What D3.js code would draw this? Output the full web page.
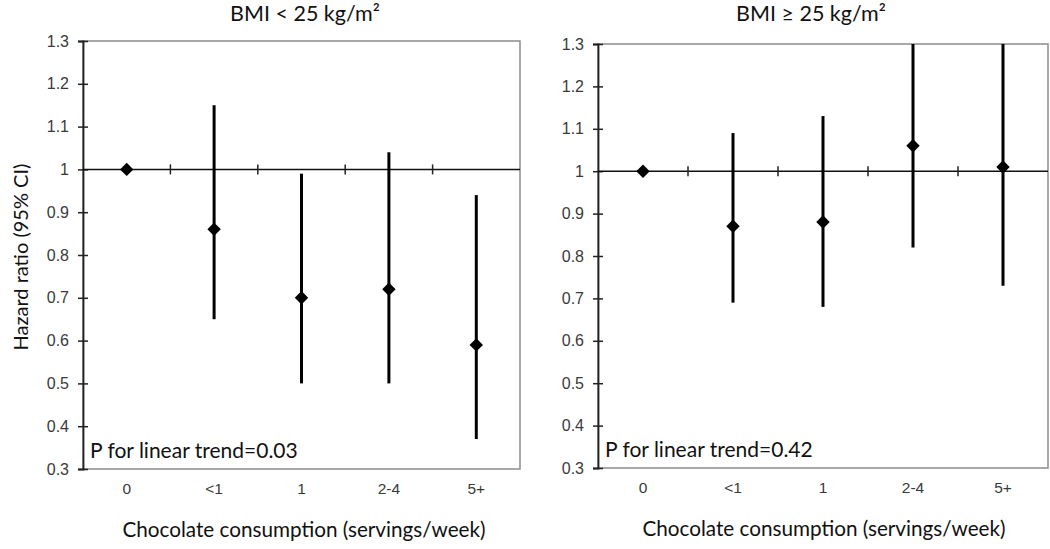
<!DOCTYPE html>
<html><head><meta charset="utf-8">
<script src="https://cdn.jsdelivr.net/npm/d3@7"></script>
<style>body{margin:0;background:#fff}</style>
</head><body>
<svg id="chart" width="1050" height="549"></svg>
<script>
const categories = ["0", "<1", "1", "2-4", "5+"];
const yTicks = [0.3, 0.4, 0.5, 0.6, 0.7, 0.8, 0.9, 1, 1.1, 1.2, 1.3];
// BMI < 25
const leftHR    = [1.00, 0.86, 0.70, 0.72, 0.59];
const leftLower = [null, 0.65, 0.50, 0.50, 0.37];
const leftUpper = [null, 1.15, 0.99, 1.04, 0.94];
// BMI >= 25
const rightHR    = [1.00, 0.87, 0.88, 1.06, 1.01];
const rightLower = [null, 0.69, 0.68, 0.82, 0.73];
const rightUpper = [null, 1.09, 1.13, 1.38, 1.39];
const titles = ["BMI < 25 kg/m\u00B2", "BMI \u2265 25 kg/m\u00B2"];
const pTexts = ["P for linear trend=0.03", "P for linear trend=0.42"];
const xTitle = "Chocolate consumption (servings/week)";
const yTitle = "Hazard ratio (95% CI)";

const svg = d3.select("#chart");
const textFont = "Lato, 'Open Sans', sans-serif";
const tickFont = "'Liberation Sans', Arial, sans-serif";

function panel(cfg, hr, lo, hi, title, ptext, idx) {
  const g = svg.append("g");
  const x = d3.scaleBand().domain(categories).range([cfg.x0, cfg.x1]);
  const y = d3.scaleLinear().domain([0.3, 1.3]).range([cfg.yB, cfg.yT]);
  const clipId = "clip" + idx;
  svg.append("clipPath").attr("id", clipId).append("rect")
    .attr("x", cfg.x0).attr("y", cfg.yT).attr("width", cfg.x1 - cfg.x0).attr("height", cfg.yB - cfg.yT);

  // plot border (gray)
  g.append("rect").attr("x", cfg.x0).attr("y", cfg.yT)
    .attr("width", cfg.x1 - cfg.x0).attr("height", cfg.yB - cfg.yT)
    .attr("fill", "none").attr("stroke", "#8c8c8c").attr("stroke-width", 1.5);

  // y axis
  const yAxis = d3.axisLeft(y).tickValues(yTicks).tickSize(5).tickPadding(9)
    .tickFormat(d => d3.format("")(+d.toFixed(1)));
  const ya = g.append("g").attr("transform", `translate(${cfg.x0},0)`).call(yAxis);
  ya.select(".domain").attr("stroke", "#222").attr("stroke-width", 1.8);
  ya.selectAll(".tick line").attr("x1", -5).attr("x2", 5).attr("stroke", "#222").attr("stroke-width", 1.5);
  ya.selectAll(".tick text").style("font-family", tickFont).style("font-size", "16px").attr("fill", "#3a3a3a");

  // x axis at y=1 with cross ticks at category boundaries
  const bounds = categories.slice(1).map(c => x(c));
  const xa = g.append("g");
  xa.append("line").attr("x1", cfg.x0).attr("x2", cfg.x1).attr("y1", y(1)).attr("y2", y(1))
    .attr("stroke", "#111").attr("stroke-width", 1.5);
  xa.selectAll("line.t").data(bounds).join("line").attr("class", "t")
    .attr("x1", d => d).attr("x2", d => d).attr("y1", y(1) - 5).attr("y2", y(1) + 5)
    .attr("stroke", "#222").attr("stroke-width", 1.5);

  // x category labels
  g.selectAll("text.cat").data(categories).join("text").attr("class", "cat")
    .attr("x", d => x(d) + x.bandwidth() / 2).attr("y", cfg.yB + 25)
    .attr("text-anchor", "middle").style("font-family", tickFont).style("font-size", "15.5px")
    .attr("fill", "#3a3a3a").text(d => d);

  // error bars
  const data = categories.map((c, i) => ({c, hr: hr[i], lo: lo[i], hi: hi[i]}));
  g.append("g").attr("clip-path", `url(#${clipId})`)
    .selectAll("line").data(data.filter(d => d.lo != null)).join("line")
    .attr("x1", d => x(d.c) + x.bandwidth() / 2).attr("x2", d => x(d.c) + x.bandwidth() / 2)
    .attr("y1", d => y(d.lo)).attr("y2", d => y(d.hi))
    .attr("stroke", "#000").attr("stroke-width", 3);

  // diamonds
  const sym = d3.symbol().type(d3.symbolDiamond2).size(115);
  g.selectAll("path.pt").data(data).join("path").attr("class", "pt")
    .attr("transform", d => `translate(${x(d.c) + x.bandwidth() / 2},${y(d.hr)})`)
    .attr("d", sym).attr("fill", "#000");

  // titles
  g.append("text").attr("x", cfg.titleX).attr("y", 21).attr("text-anchor", "middle")
    .attr("font-family", textFont).attr("font-size", 21.5).attr("fill", "#111").text(title);
  g.append("text").attr("x", cfg.x0 + 7).attr("y", cfg.yB - 11)
    .attr("font-family", textFont).attr("font-size", 21).attr("fill", "#111").text(ptext);
  g.append("text").attr("x", cfg.xTitleX).attr("y", cfg.yB + 68).attr("text-anchor", "middle")
    .attr("font-family", textFont).attr("font-size", 20.7).attr("fill", "#111").text(xTitle);
}

panel({x0: 83, x1: 520, yT: 41, yB: 469, titleX: 305, xTitleX: 304}, leftHR, leftLower, leftUpper, titles[0], pTexts[0], 0);
panel({x0: 598, x1: 1048, yT: 44, yB: 468, titleX: 811, xTitleX: 824}, rightHR, rightLower, rightUpper, titles[1], pTexts[1], 1);

svg.append("text").attr("transform", "translate(28,257) rotate(-90)").attr("text-anchor", "middle")
  .attr("font-family", textFont).attr("font-size", 20).attr("fill", "#111").text(yTitle);
</script>
</body></html>
